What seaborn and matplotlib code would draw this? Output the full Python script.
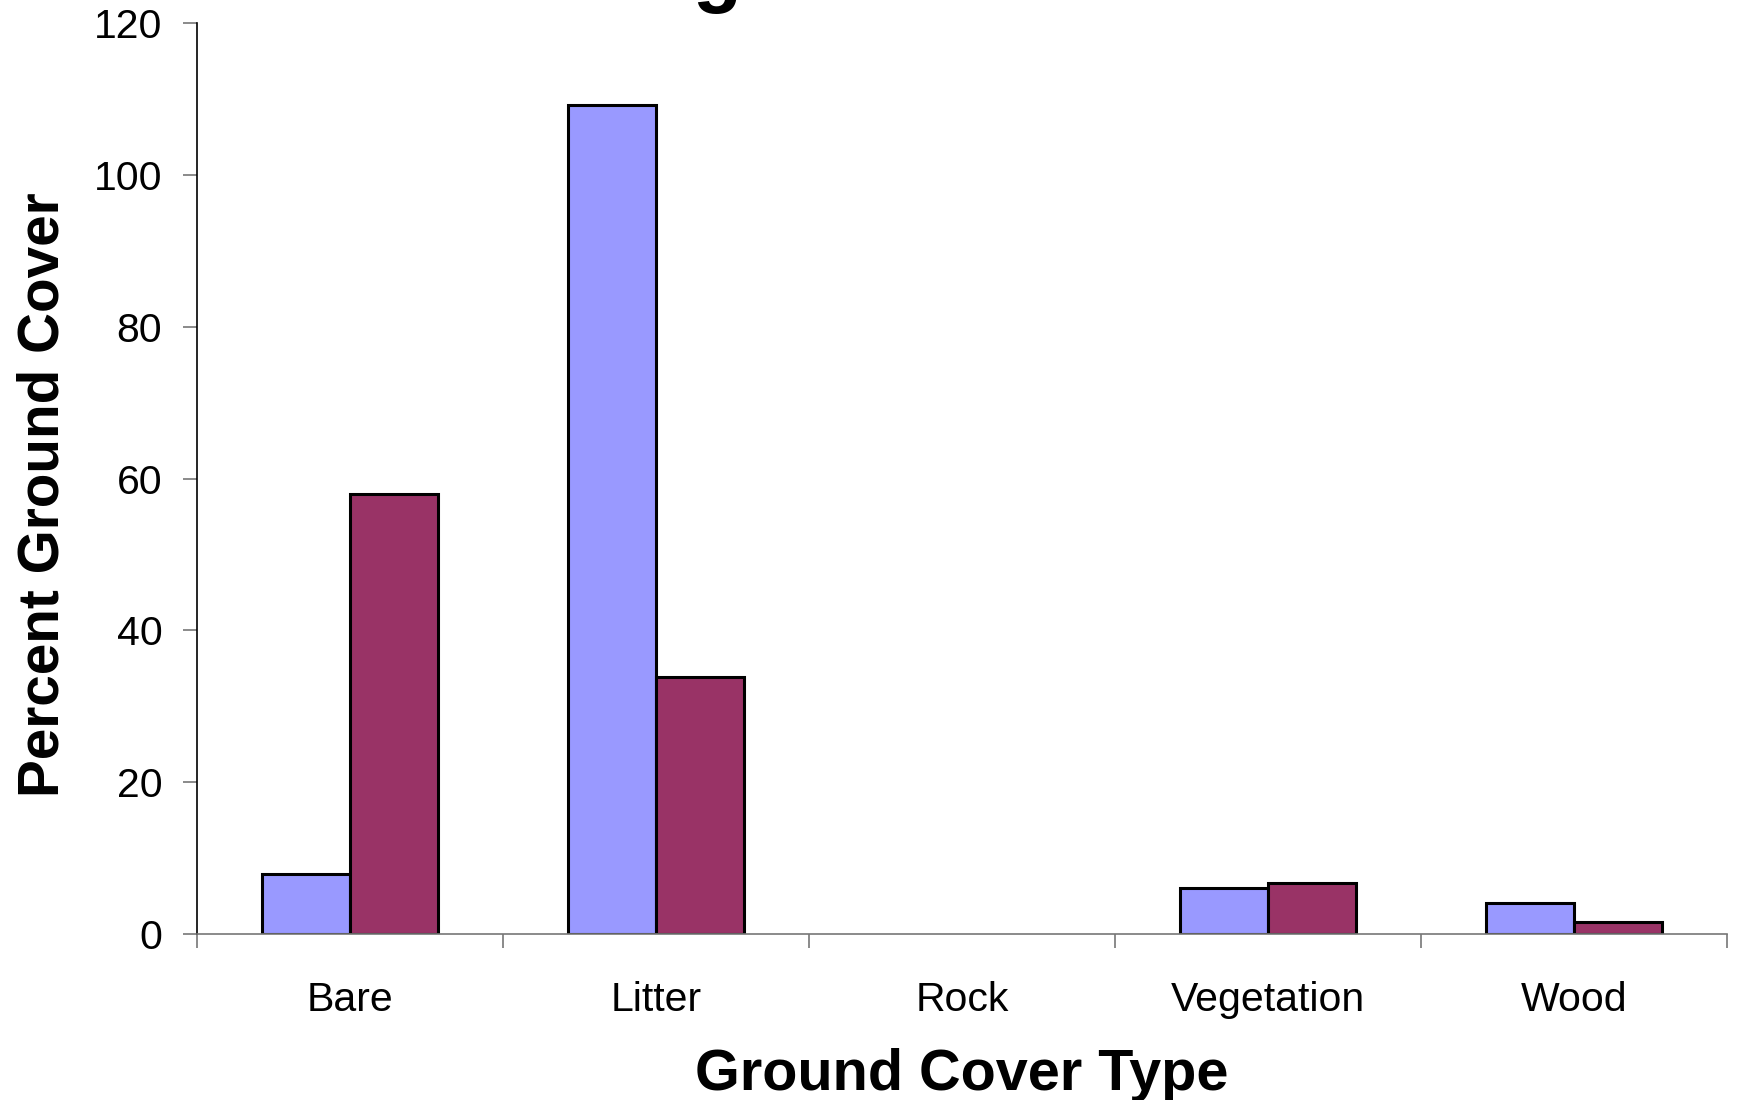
import numpy as np
import pandas as pd
import matplotlib
matplotlib.use("Agg")
import matplotlib.pyplot as plt
import seaborn as sns

# ---- data ----
categories = ["Bare", "Litter", "Rock", "Vegetation", "Wood"]
series_names = ["Series A", "Series B"]
series_a = [7.9, 109.2, 0.0, 6.0, 4.1]
series_b = [58.0, 33.8, 0.0, 6.7, 1.6]
y_ticks = [0, 20, 40, 60, 80, 100, 120]
colors = ["#9999FF", "#993366"]

title_text = "Average Ground Cover"
x_label = "Ground Cover Type"
y_label = "Percent Ground Cover"

df = pd.DataFrame({
    "category": categories * 2,
    "series": [series_names[0]] * len(categories) + [series_names[1]] * len(categories),
    "value": series_a + series_b,
})

sns.set_style("white")
plt.rcParams["font.family"] = ["Liberation Sans", "DejaVu Sans"]
plt.rcParams["text.color"] = "black"
plt.rcParams["axes.labelcolor"] = "black"
plt.rcParams["xtick.labelcolor"] = "black"
plt.rcParams["ytick.labelcolor"] = "black"

W, H = 1739, 1100
fig = plt.figure(figsize=(W / 100, H / 100), dpi=100)
ax = fig.add_axes([197 / W, 1 - 934 / H, (1727 - 197) / W, (934 - 23) / H])

sns.barplot(data=df, x="category", y="value", hue="series", order=categories,
            hue_order=series_names, palette=colors, width=0.573, saturation=1,
            edgecolor="black", linewidth=2.2, errorbar=None, legend=False, ax=ax)

# hide zero-height bars (Rock) so no black edge is drawn on the axis
for p in ax.patches:
    if p.get_height() == 0:
        p.set_visible(False)

ax.set_xlim(-0.5, len(categories) - 0.5)
ax.set_ylim(0, 120)
ax.set_yticks(y_ticks)
ax.set_yticklabels([str(t) for t in y_ticks])

# category boundary ticks (major, no labels) and centred labels (minor)
ax.set_xticks(np.arange(-0.5, len(categories), 1.0))
ax.set_xticklabels([])
ax.set_xticks(np.arange(len(categories)), minor=True)
ax.set_xticklabels(categories, minor=True)

ax.tick_params(axis="x", which="major", length=10, width=1.2, color="#777777",
               direction="out", bottom=True)
ax.tick_params(axis="x", which="minor", length=0, pad=33.5, labelsize=29.5,
               labelcolor="black", bottom=True)
ax.tick_params(axis="y", which="major", length=10, width=1.2, color="#777777",
               direction="out", pad=15, labelsize=29.5, labelcolor="black", left=True)

for s in ["top", "right"]:
    ax.spines[s].set_visible(False)
ax.spines["left"].set_color("black")
ax.spines["left"].set_linewidth(1.2)
ax.spines["bottom"].set_color("#777777")
ax.spines["bottom"].set_linewidth(1.2)

ax.set_xlabel(x_label, fontsize=41.5, fontweight="bold", color="black")
ax.set_ylabel(y_label, fontsize=40.8, fontweight="bold", color="black")
ax.xaxis.set_label_coords(0.5, -0.1256)
ax.yaxis.set_label_coords(-0.083, 0.482)

fig.text(0.524, 1.0027, title_text, fontsize=58, fontweight="bold",
         ha="center", va="baseline", color="black")

fig.savefig("out.png", dpi=100)
